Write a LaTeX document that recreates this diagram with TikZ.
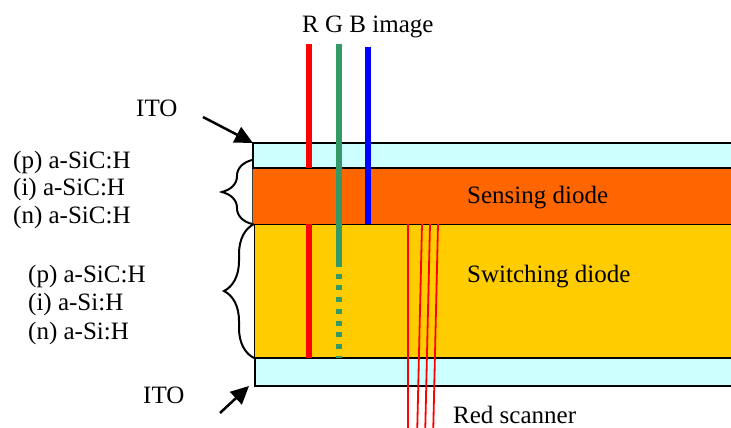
\documentclass[tikz,border=0pt]{standalone}
\usepackage{fontspec}
\setmainfont{Liberation Serif}
\usepackage{tikz}
\usetikzlibrary{arrows.meta, positioning, decorations.pathreplacing, calc}
\definecolor{itocyan}{RGB}{204, 255, 255}
\definecolor{sensorange}{RGB}{255, 102, 0}
\definecolor{switchyellow}{RGB}{255, 204, 0}
\definecolor{beamred}{RGB}{255, 0, 0}
\definecolor{beamgreen}{RGB}{51, 153, 102}
\definecolor{beamblue}{RGB}{0, 0, 255}

\begin{document}
\begin{tikzpicture}[
  x=1pt, y=-1pt,
  layer/.style={rectangle, anchor=north west, minimum width=520pt, inner sep=0pt, outer sep=0pt},
  itolayer/.style={layer, draw=black, fill=itocyan, line width=2pt},
  diodelayer/.style={layer, draw=black!75, line width=1pt},
  txt/.style={anchor=base west, inner sep=0pt, font=\fontsize{25}{28}\selectfont},
  beam/.style={line width=5.5pt},
  scan/.style={draw=beamred, line width=1.8pt},
  pointer/.style={-{Triangle[length=18pt, width=17pt]}, line width=2.5pt},
  bracket/.style={decorate, decoration={brace, amplitude=30pt}, line width=2pt}
]
  \clip (0,0) rectangle (731,428);

  % layer stack
  \node[diodelayer, fill=sensorange, minimum height=56pt] (sensing) at (252,168) {};
  \node[diodelayer, draw=black, fill=switchyellow, minimum height=134pt] (switching) at (254,224) {};
  \node[itolayer, minimum height=25pt] (topito) at (253,143) {};
  \node[itolayer, minimum height=28pt] (botito) at (255,358) {};

  \node[txt] (senselbl) at (467,203) {Sensing diode};
  \node[txt] (switchlbl) at (467,282) {Switching diode};

  % incoming beams
  \node[txt] (rgb) at (302,33) {R G B image};
  \coordinate (rsrc) at (309,44);
  \coordinate (gsrc) at (339,44);
  \coordinate (gmid) at (339,262);
  \coordinate (bsrc) at (368,47);

  \draw[beam, beamred] (rsrc) -- (rsrc |- sensing.north);
  \draw[beam, beamred] (rsrc |- switching.north) -- (rsrc |- botito.north);
  \draw[beam, beamgreen] (gsrc) -- (gmid);
  \draw[beam, beamgreen, dash pattern=on 5pt off 6.7pt] (gmid) -- (gsrc |- botito.north);
  \draw[beam, beamblue] (bsrc) -- (bsrc |- switching.north);

  % scanner
  \foreach \xt/\xb in {408/408, 422/417, 430/425, 438/433}
    \draw[scan] (\xt,224) -- (\xb,440);
  \node[txt] (scanner) at (453,423) {Red scanner};

  % ITO pointers
  \node[txt] (itotop) at (136,117) {ITO};
  \coordinate (itotail) at (203,117);
  \draw[pointer] (itotail) -- (topito.north west);
  \node[txt] (itobot) at (143,403) {ITO};
  \coordinate (itobtail) at (220,413);
  \coordinate (itobtip) at (249,386);
  \draw[pointer] (itobtail) -- (itobtip);

  % layer names
  \node[txt] (sp) at (13,168) {(p) a-SiC:H};
  \node[txt] (si) at (13,195.5) {(i) a-SiC:H};
  \node[txt] (sn) at (13,223) {(n) a-SiC:H};
  \node[txt] (wp) at (28,282) {(p) a-SiC:H};
  \node[txt] (wi) at (28,310.5) {(i) a-Si:H};
  \node[txt] (wn) at (28,339) {(n) a-Si:H};

  \draw[bracket] (sensing.south west) -- ($(sensing.north west)+(0,-8)$);
  \draw[bracket] (switching.south west) -- (switching.north west);
\end{tikzpicture}
\end{document}
